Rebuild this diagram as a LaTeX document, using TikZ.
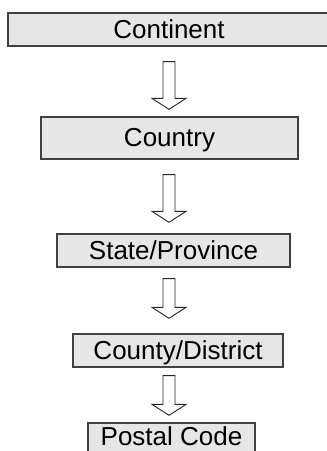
\documentclass[tikz,border=0pt]{standalone}
\usepackage{fontspec}
\setmainfont{Liberation Sans}
\usetikzlibrary{calc}
\definecolor{boxfill}{HTML}{E6E6E6}
\definecolor{boxline}{HTML}{404040}
\newcommand{\openarrow}[4]{%
  \draw[hollow] let \p1=([yshift=-#3pt]#1.south), \p2=([yshift=#4pt]#2.north) in
    (163pt,\y1) -- (175pt,\y1) -- (175pt,\y2+11pt) -- (186pt,\y2+11pt) -- (169pt,\y2)
    -- (152pt,\y2+11pt) -- (163pt,\y2+11pt) -- cycle;}
\begin{document}
\begin{tikzpicture}[x=1pt,y=-1pt,
  level/.style={draw=boxline,fill=boxfill,line width=1.3pt,rectangle,
    inner sep=0pt,font=\fontsize{26}{30}\selectfont,
    text height=19pt,text depth=2pt},
  hollow/.style={draw=black!85,line width=0.9pt,fill=white,line join=miter}]
  \useasboundingbox (0,0) rectangle (327,451);
  \node[level,minimum width=322,minimum height=33] (cont) at (169,29.5) {Continent};
  \node[level,minimum width=257,minimum height=42] (ctry) at (169.5,138) {Country};
  \node[level,minimum width=233,minimum height=33] (state) at (173.5,250.5) {State/Province};
  \node[level,minimum width=210,minimum height=33] (cnty) at (178,350.5) {County/District};
  \node[level,minimum width=167,minimum height=33,text depth=8pt] (post) at (171.5,439.5) {Postal Code};
  \openarrow{cont}{ctry}{15}{7}
  \openarrow{ctry}{state}{15}{11}
  \openarrow{state}{cnty}{11}{15}
  \openarrow{cnty}{post}{8}{7}
\end{tikzpicture}
\end{document}
